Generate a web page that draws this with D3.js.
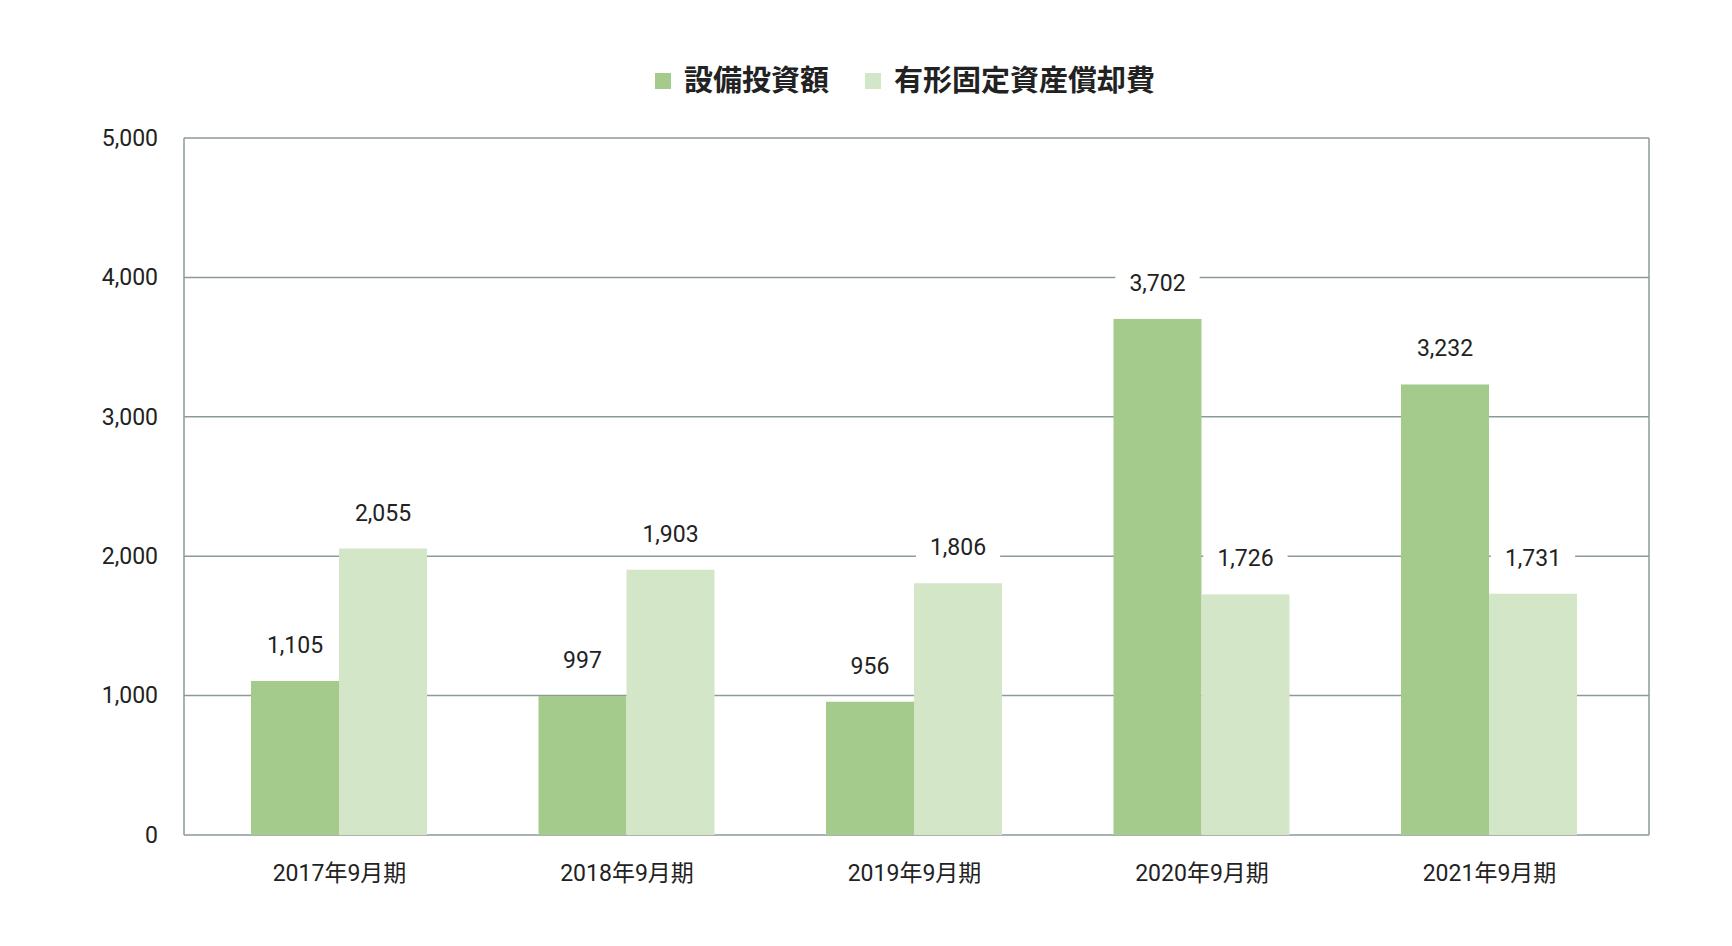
<!DOCTYPE html>
<html><head><meta charset="utf-8">
<script src="https://cdn.jsdelivr.net/npm/d3@7"></script>
<style>body{margin:0;background:#fff}text{font-family:Roboto,"Noto Sans CJK JP",sans-serif;fill:#222}</style>
</head><body><svg id="c" width="1732" height="946"></svg>
<script>
const categories=["2017年9月期","2018年9月期","2019年9月期","2020年9月期","2021年9月期"];
const capex=[1105,997,956,3702,3232];
const depreciation=[2055,1903,1806,1726,1731];
const seriesNames=["設備投資額","有形固定資産償却費"];
const colors=["#a5cb8c","#d3e6c8"];
const yTicks=[0,1000,2000,3000,4000,5000];

const svg=d3.select("#c");
const L=184,R=1649,T=138,B=835;
const y=d3.scaleLinear().domain([0,5000]).range([B,T]);
const x=d3.scalePoint().domain(categories).range([339,1489]);
const barW=88;
const xs=d3.scaleBand().domain([0,1]).range([-barW,barW]);
const fmt=d3.format(",");

svg.append("g").selectAll("line").data(yTicks).join("line")
 .attr("x1",L).attr("x2",R).attr("y1",d=>y(d)).attr("y2",d=>y(d))
 .attr("stroke","#8c9a9a").attr("stroke-width",1.5);
svg.append("line").attr("x1",L).attr("x2",L).attr("y1",T).attr("y2",B).attr("stroke","#8c9a9a").attr("stroke-width",1.5);
svg.append("line").attr("x1",R).attr("x2",R).attr("y1",T).attr("y2",B).attr("stroke","#8c9a9a").attr("stroke-width",1.5);

const yAxis=d3.axisLeft(y).tickValues(yTicks).tickFormat(fmt).tickSize(0).tickPadding(26);
const ga=svg.append("g").attr("transform",`translate(${L},0)`).call(yAxis);
ga.select(".domain").remove();
ga.selectAll("text").attr("font-size",23);

const xAxis=d3.axisBottom(x).tickSize(0).tickPadding(30);
const gx=svg.append("g").attr("transform",`translate(0,${B})`).call(xAxis);
gx.select(".domain").remove();
gx.selectAll("text").attr("font-size",23);

const series=[capex,depreciation];
series.forEach((vals,si)=>{
  svg.append("g").selectAll("rect").data(vals).join("rect")
   .attr("x",(d,i)=>x(categories[i])+xs(si)).attr("width",xs.bandwidth())
   .attr("y",d=>y(d)).attr("height",d=>B-y(d)).attr("fill",colors[si]);
});
const lab=svg.append("g");
series.forEach((vals,si)=>{
  vals.forEach((d,i)=>{
    const cx=x(categories[i])+xs(si)+xs.bandwidth()/2;
    const bg=lab.append("rect").attr("fill","#fff");
    const t=lab.append("text").attr("x",cx).attr("y",y(d)-28).attr("text-anchor","middle")
      .attr("font-size",23).text(fmt(d));
    const bb=t.node().getBBox();
    bg.attr("x",bb.x-14).attr("y",bb.y-2).attr("width",bb.width+28).attr("height",bb.height+4);
  });
});
const lg=svg.append("g").attr("transform","translate(655,81)");
let lx=0;
seriesNames.forEach((n,i)=>{
  lg.append("rect").attr("x",lx).attr("y",-8).attr("width",16).attr("height",16).attr("fill",colors[i]);
  const t=lg.append("text").attr("x",lx+29).attr("y",10).attr("font-size",29).attr("font-weight","bold").text(n);
  lx+=29+t.node().getComputedTextLength()+36;
});
</script></body></html>
